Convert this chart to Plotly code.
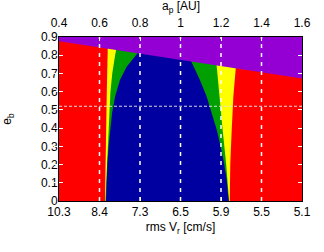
import plotly.graph_objects as go

# --- data ---------------------------------------------------------------
a_ticks = [0.4, 0.6, 0.8, 1.0, 1.2, 1.4, 1.6]
a_labels = ["0.4", "0.6", "0.8", "1", "1.2", "1.4", "1.6"]
v_labels = ["10.3", "8.4", "7.3", "6.5", "5.9", "5.5", "5.1"]
e_ticks = [0, 0.1, 0.2, 0.3, 0.4, 0.5, 0.6, 0.7, 0.8, 0.9]
e_crit = 0.52

# upper limit (purple region above)
top_a = [0.4, 1.0, 1.6]
top_e = [0.877, 0.775, 0.672]

# left side boundaries (e -> a)
L_red_yel_e = [0, 0.1, 0.2, 0.3, 0.4, 0.5, 0.6, 0.7, 0.8, 0.9]
L_red_yel_a = [0.627, 0.628, 0.629, 0.630, 0.632, 0.634, 0.636, 0.638, 0.640, 0.642]
L_yel_grn_e = [0, 0.1, 0.2, 0.3, 0.4, 0.5, 0.6, 0.7, 0.8, 0.9]
L_yel_grn_a = [0.629, 0.633, 0.637, 0.640, 0.643, 0.648, 0.654, 0.663, 0.677, 0.695]
L_grn_blu_e = [0, 0.1, 0.209, 0.3, 0.391, 0.482, 0.573, 0.664, 0.737, 0.81, 0.86]
L_grn_blu_a = [0.632, 0.634, 0.639, 0.645, 0.652, 0.662, 0.677, 0.701, 0.734, 0.787, 0.85]

# right side boundaries (e -> a)
R_blu_grn_e = [0, 0.118, 0.209, 0.30, 0.391, 0.482, 0.573, 0.664, 0.761, 0.82]
R_blu_grn_a = [1.238, 1.228, 1.215, 1.198, 1.179, 1.154, 1.129, 1.096, 1.055, 1.02]
R_grn_yel_e = [0, 0.209, 0.391, 0.573, 0.737, 0.82]
R_grn_yel_a = [1.240, 1.225, 1.208, 1.191, 1.179, 1.172]
R_yel_red_e = [0, 0.209, 0.391, 0.573, 0.723, 0.82]
R_yel_red_a = [1.243, 1.246, 1.253, 1.261, 1.272, 1.28]

C_RED, C_YEL, C_GRN, C_BLU, C_PUR = "#ff0000", "#ffff00", "#00a000", "#0000a0", "#9400d3"

fig = go.Figure()


def band(la, le, ra, re, color):
    xs = list(la) + list(ra)[::-1]
    ys = list(le) + list(re)[::-1]
    fig.add_trace(go.Scatter(x=xs, y=ys, fill="toself", fillcolor=color,
                             mode="lines", line=dict(width=0, color=color),
                             hoverinfo="skip", showlegend=False))


# red background
band([a_ticks[0], a_ticks[0]], [e_ticks[0], e_ticks[-1]],
     [a_ticks[-1], a_ticks[-1]], [e_ticks[0], e_ticks[-1]], C_RED)
band(L_red_yel_a, L_red_yel_e, R_yel_red_a, R_yel_red_e, C_YEL)
band(L_yel_grn_a, L_yel_grn_e, R_grn_yel_a, R_grn_yel_e, C_GRN)
band(L_grn_blu_a, L_grn_blu_e, R_blu_grn_a, R_blu_grn_e, C_BLU)
# purple region above limit
fig.add_trace(go.Scatter(x=top_a + [top_a[-1], top_a[0]],
                         y=top_e + [e_ticks[-1], e_ticks[-1]],
                         fill="toself", fillcolor=C_PUR, mode="lines",
                         line=dict(width=0, color=C_PUR),
                         hoverinfo="skip", showlegend=False))
# invisible trace for top axis
fig.add_trace(go.Scatter(x=[a_ticks[0], a_ticks[-1]], y=[0, 0], xaxis="x2",
                         mode="markers", marker=dict(opacity=0),
                         hoverinfo="skip", showlegend=False))

shapes = []
for a in a_ticks[1:-1]:
    shapes.append(dict(type="line", xref="x", yref="y", x0=a, x1=a,
                       y0=e_ticks[0], y1=e_ticks[-1], layer="above",
                       line=dict(color="white", width=1.5, dash="4px,5px")))
shapes.append(dict(type="line", xref="x", yref="y", x0=a_ticks[0], x1=a_ticks[-1],
                   y0=e_crit, y1=e_crit, layer="above",
                   line=dict(color="rgba(225,225,225,0.95)", width=1.2, dash="3px,2px")))

font = dict(family="Liberation Sans, Arial, sans-serif", size=12, color="black")
axis_common = dict(showgrid=False, zeroline=False, showline=True, linecolor="black",
                   linewidth=1, ticks="inside", ticklen=4, tickcolor="white",
                   tickfont=font, automargin=False)

fig.update_layout(
    width=324, height=252,
    margin=dict(l=59, r=22, t=37, b=51, autoexpand=False),
    paper_bgcolor="white", plot_bgcolor="white",
    font=font,
    shapes=shapes,
    xaxis=dict(range=[a_ticks[0], a_ticks[-1]], tickvals=a_ticks, ticktext=v_labels,
               mirror=False, ticklabelstandoff=0,
               title=dict(text="rms V<sub>r</sub> [cm/s]", font=font, standoff=4),
               **axis_common),
    xaxis2=dict(range=[a_ticks[0], a_ticks[-1]], tickvals=a_ticks, ticktext=a_labels,
                overlaying="x", side="top", ticklabelstandoff=4,
                **axis_common),
    yaxis=dict(range=[e_ticks[0], e_ticks[-1]], tickvals=e_ticks, mirror="allticks",
               ticklabelstandoff=-2,
               title=dict(text="e<sub>b</sub>", font=font, standoff=35),
               **axis_common),
    annotations=[dict(text="a<sub>p</sub> [AU]", xref="paper", yref="paper",
                      x=0.5, y=1.18, xanchor="center", yanchor="middle",
                      showarrow=False, font=font)],
)

fig.write_html("out.html", config={"displayModeBar": False, "staticPlot": True},
               post_script="document.body.style.margin='0';")
